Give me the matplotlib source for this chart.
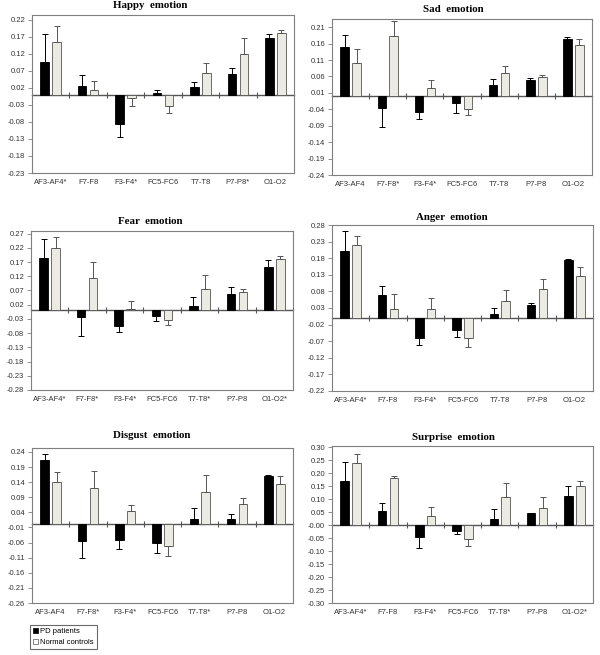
import matplotlib
matplotlib.use("Agg")
import matplotlib.pyplot as plt
import numpy as np
from matplotlib.patches import Patch

# channel pairs, asterisk marks a significant difference
channels = ["AF3-AF4", "F7-F8", "F3-F4", "FC5-FC6", "T7-T8", "P7-P8", "O1-O2"]

happy_sig = [1, 0, 1, 0, 0, 1, 0]
happy_pd = [0.097, 0.025, -0.087, 0.004, 0.022, 0.060, 0.166]
happy_pd_err = [0.081, 0.034, 0.038, 0.009, 0.016, 0.018, 0.012]
happy_nc = [0.155, 0.013, -0.009, -0.032, 0.065, 0.118, 0.181]
happy_nc_err = [0.047, 0.026, 0.023, 0.023, 0.029, 0.048, 0.009]

sad_sig = [0, 1, 1, 0, 0, 0, 0]
sad_pd = [0.151, -0.036, -0.048, -0.020, 0.034, 0.050, 0.173]
sad_pd_err = [0.035, 0.058, 0.021, 0.030, 0.018, 0.004, 0.008]
sad_nc = [0.100, 0.182, 0.025, -0.040, 0.070, 0.057, 0.156]
sad_nc_err = [0.043, 0.047, 0.023, 0.018, 0.022, 0.007, 0.017]

fear_sig = [1, 1, 1, 0, 1, 0, 1]
fear_pd = [0.183, -0.022, -0.056, -0.021, 0.016, 0.056, 0.151]
fear_pd_err = [0.069, 0.067, 0.021, 0.016, 0.031, 0.025, 0.027]
fear_nc = [0.219, 0.115, 0.006, -0.033, 0.076, 0.064, 0.180]
fear_nc_err = [0.040, 0.055, 0.027, 0.017, 0.049, 0.011, 0.012]

anger_sig = [1, 0, 1, 0, 0, 0, 0]
anger_pd = [0.201, 0.069, -0.060, -0.035, 0.011, 0.038, 0.174]
anger_pd_err = [0.060, 0.026, 0.022, 0.021, 0.018, 0.006, 0.005]
anger_nc = [0.219, 0.026, 0.028, -0.061, 0.051, 0.088, 0.127]
anger_nc_err = [0.028, 0.046, 0.032, 0.027, 0.032, 0.030, 0.027]

disgust_sig = [0, 1, 1, 0, 1, 0, 0]
disgust_pd = [0.212, -0.056, -0.051, -0.063, 0.017, 0.019, 0.161]
disgust_pd_err = [0.020, 0.055, 0.029, 0.031, 0.038, 0.017, 0.004]
disgust_nc = [0.141, 0.122, 0.046, -0.071, 0.109, 0.069, 0.134]
disgust_nc_err = [0.033, 0.054, 0.020, 0.035, 0.054, 0.019, 0.027]

surprise_sig = [1, 0, 1, 0, 1, 0, 1]
surprise_pd = [0.172, 0.054, -0.046, -0.023, 0.022, 0.045, 0.111]
surprise_pd_err = [0.073, 0.031, 0.042, 0.013, 0.039, 0.003, 0.039]
surprise_nc = [0.239, 0.181, 0.035, -0.054, 0.110, 0.067, 0.152]
surprise_nc_err = [0.037, 0.009, 0.036, 0.025, 0.051, 0.041, 0.020]

W, H = 600, 655
fig = plt.figure(figsize=(W / 100, H / 100), dpi=100)

GRAY = "#7f7f7f"
NC_COLOR = "#ebebe3"
SANS = "Liberation Sans"


def px_rect(x0, y0, x1, y1):
    return [x0 / W, 1 - y1 / H, (x1 - x0) / W, (y1 - y0) / H]


def one_sided(vals, errs):
    vals = np.asarray(vals)
    errs = np.asarray(errs)
    lower = np.where(vals < 0, errs, 0)
    upper = np.where(vals >= 0, errs, 0)
    return [lower, upper]


def panel(rect, title, title_xy, sig, pd, pd_err, nc, nc_err, ylim, ytick_lo, ytick_hi):
    ax = fig.add_axes(px_rect(*rect))
    x = np.arange(len(channels))
    w = 0.23
    ax.bar(x - 0.16, pd, w, color="black", edgecolor="black", linewidth=0.6, zorder=2)
    ax.bar(x + 0.16, nc, w, color=NC_COLOR, edgecolor="#555555", linewidth=0.6, zorder=2)
    ax.errorbar(x - 0.16, pd, yerr=one_sided(pd, pd_err), fmt="none", ecolor="black",
                elinewidth=0.7, capsize=2.2, capthick=0.7, zorder=3)
    ax.errorbar(x + 0.16, nc, yerr=one_sided(nc, nc_err), fmt="none", ecolor="#555555",
                elinewidth=0.7, capsize=2.2, capthick=0.7, zorder=3)

    ax.set_xlim(-0.5, len(channels) - 0.5)
    ax.set_ylim(*ylim)
    ticks = np.round(np.arange(ytick_lo, ytick_hi + 0.001, 0.05), 2)
    ax.set_yticks(ticks)
    ax.set_yticklabels([f"{t:.2f}" for t in ticks], fontsize=5.5, family=SANS, color="#333333")
    labels = [c + ("*" if s else "") for c, s in zip(channels, sig)]
    ax.set_xticks(x)
    ax.set_xticklabels(labels, fontsize=5.5, family=SANS, color="#333333")
    ax.tick_params(axis="x", length=0, pad=4)
    ax.tick_params(axis="y", length=3, width=0.6, color=GRAY, pad=2)
    for s in ax.spines.values():
        s.set_color(GRAY)
        s.set_linewidth(0.8)

    # zero line with category dividers
    zero = (0 - ylim[0]) / (ylim[1] - ylim[0])
    sec = ax.secondary_xaxis(zero)
    sec.set_xticks(x[:-1] + 0.5)
    sec.set_xticklabels([])
    sec.tick_params(length=4, width=0.8, direction="inout", color="#555555")
    sec.spines["bottom"].set_color("#555555")
    sec.spines["bottom"].set_linewidth(1.0)
    sec.spines["top"].set_color("#555555")
    sec.spines["top"].set_linewidth(1.0)

    fig.text(title_xy[0] / W, 1 - title_xy[1] / H, title, ha="center", va="center",
             fontsize=7.8, fontweight="bold", family="Liberation Serif")
    return ax


panel((32, 15, 294, 173), "Happy  emotion", (150, 6), happy_sig, happy_pd, happy_pd_err,
      happy_nc, happy_nc_err, (-0.23, 0.234), -0.23, 0.22)
panel((332, 19, 592, 175), "Sad  emotion", (453, 10), sad_sig, sad_pd, sad_pd_err,
      sad_nc, sad_nc_err, (-0.24, 0.235), -0.24, 0.21)
panel((31, 231, 293, 390), "Fear  emotion", (150, 221), fear_sig, fear_pd, fear_pd_err,
      fear_nc, fear_nc_err, (-0.28, 0.279), -0.28, 0.27)
panel((332, 225, 593, 391), "Anger  emotion", (452, 218), anger_sig, anger_pd, anger_pd_err,
      anger_nc, anger_nc_err, (-0.22, 0.28), -0.22, 0.28)
panel((32, 448, 293, 603), "Disgust  emotion", (152, 436), disgust_sig, disgust_pd, disgust_pd_err,
      disgust_nc, disgust_nc_err, (-0.26, 0.253), -0.26, 0.24)
panel((332, 446, 593, 603), "Surprise  emotion", (453, 438), surprise_sig, surprise_pd, surprise_pd_err,
      surprise_nc, surprise_nc_err, (-0.30, 0.305), -0.30, 0.30)

handles = [Patch(facecolor="black", edgecolor="black", linewidth=0.5),
           Patch(facecolor="white", edgecolor="#555555", linewidth=0.5)]
leg = fig.legend(handles, ["PD patients", "Normal controls"], loc="upper left",
                 bbox_to_anchor=(30 / W, 1 - 625 / H), fancybox=False, frameon=True,
                 prop={"family": SANS, "size": 5.5}, handlelength=0.6, handleheight=0.6,
                 handletextpad=0.3, borderpad=0.4, labelspacing=0.5, borderaxespad=0)
leg.get_frame().set_edgecolor("#444444")
leg.get_frame().set_linewidth(0.8)

fig.savefig("out.png", dpi=100, facecolor="white")
